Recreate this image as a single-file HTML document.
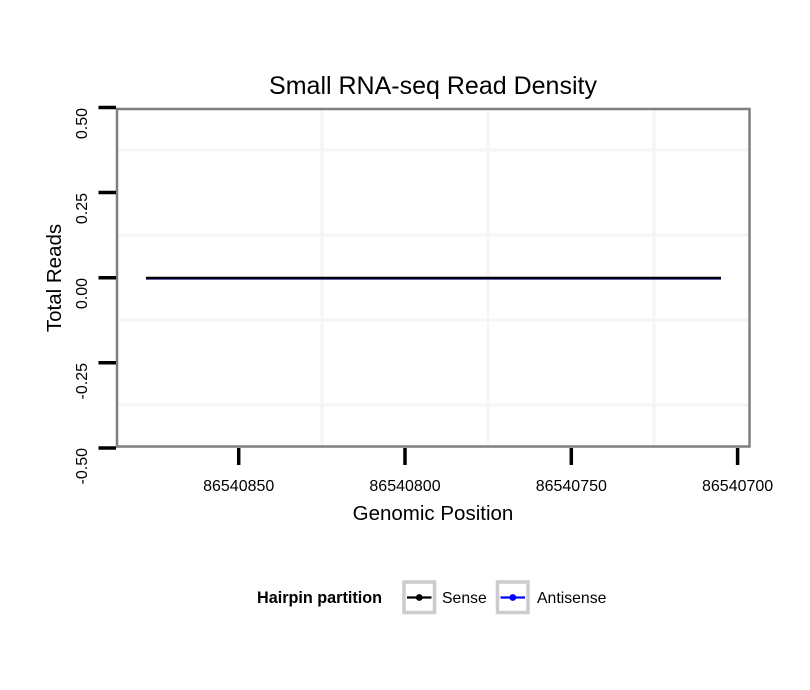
<!DOCTYPE html>
<html>
<head>
<meta charset="utf-8">
<style>
html,body{margin:0;padding:0;background:#fff;}
svg{display:block;}
text{font-family:"Liberation Sans",Arial,sans-serif;fill:#000;}
</style>
</head>
<body>
<svg width="810" height="690" viewBox="0 0 810 690" xmlns="http://www.w3.org/2000/svg">
  <rect x="0" y="0" width="810" height="690" fill="#fff"/>
  <!-- title -->
  <text x="433" y="94" font-size="25" text-anchor="middle">Small RNA-seq Read Density</text>

  <!-- grid lines (minor) -->
  <g stroke="#f5f5f5" stroke-width="3">
    <line x1="118" y1="150" x2="748" y2="150"/>
    <line x1="118" y1="235" x2="748" y2="235"/>
    <line x1="118" y1="320" x2="748" y2="320"/>
    <line x1="118" y1="405" x2="748" y2="405"/>
    <line x1="322" y1="110" x2="322" y2="446"/>
    <line x1="488" y1="110" x2="488" y2="446"/>
    <line x1="654" y1="110" x2="654" y2="446"/>
  </g>

  <!-- data line -->
  <line x1="146" y1="278.6" x2="721" y2="278.6" stroke="#2a2a90" stroke-width="2.4"/>
  <line x1="146" y1="277.8" x2="721" y2="277.8" stroke="#000" stroke-width="2.2"/>

  <!-- panel border -->
  <rect x="117" y="109" width="632.5" height="337.5" fill="none" stroke="#7f7f7f" stroke-width="2.5"/>

  <!-- y ticks -->
  <g stroke="#000" stroke-width="3.5">
    <line x1="98.5" y1="107.5" x2="116" y2="107.5"/>
    <line x1="98.5" y1="192.5" x2="116" y2="192.5"/>
    <line x1="98.5" y1="277.8" x2="116" y2="277.8"/>
    <line x1="98.5" y1="362.8" x2="116" y2="362.8"/>
    <line x1="98.5" y1="448" x2="116" y2="448"/>
  </g>
  <!-- y tick labels -->
  <g font-size="16" text-anchor="end">
    <text transform="translate(87,108) rotate(-90)">0.50</text>
    <text transform="translate(87,193) rotate(-90)">0.25</text>
    <text transform="translate(87,278) rotate(-90)">0.00</text>
    <text transform="translate(87,363) rotate(-90)">-0.25</text>
    <text transform="translate(87,448) rotate(-90)">-0.50</text>
  </g>
  <text transform="translate(61,278) rotate(-90)" font-size="20.5" text-anchor="middle">Total Reads</text>

  <!-- x ticks -->
  <g stroke="#000" stroke-width="3.5">
    <line x1="238.7" y1="448" x2="238.7" y2="465"/>
    <line x1="405" y1="448" x2="405" y2="465"/>
    <line x1="571.3" y1="448" x2="571.3" y2="465"/>
    <line x1="737.6" y1="448" x2="737.6" y2="465"/>
  </g>
  <g font-size="16" text-anchor="middle">
    <text x="238.7" y="491">86540850</text>
    <text x="405" y="491">86540800</text>
    <text x="571.3" y="491">86540750</text>
    <text x="737.6" y="491">86540700</text>
  </g>
  <text x="433" y="520" font-size="20.5" text-anchor="middle">Genomic Position</text>

  <!-- legend -->
  <text x="257" y="603" font-size="16.2" font-weight="bold">Hairpin partition</text>
  <rect x="404" y="582" width="30.5" height="30.5" fill="#fff" stroke="#cccccc" stroke-width="3.5"/>
  <line x1="407" y1="597.5" x2="431.5" y2="597.5" stroke="#000" stroke-width="2.2"/>
  <circle cx="419.3" cy="597.5" r="3.4" fill="#000"/>
  <text x="442" y="603" font-size="15.8">Sense</text>
  <rect x="497.5" y="582" width="30.5" height="30.5" fill="#fff" stroke="#cccccc" stroke-width="3.5"/>
  <line x1="500.5" y1="597.5" x2="525" y2="597.5" stroke="#0000ff" stroke-width="2.2"/>
  <circle cx="512.8" cy="597.5" r="3.4" fill="#0000ff"/>
  <text x="537" y="603" font-size="15.8">Antisense</text>
</svg>
</body>
</html>
